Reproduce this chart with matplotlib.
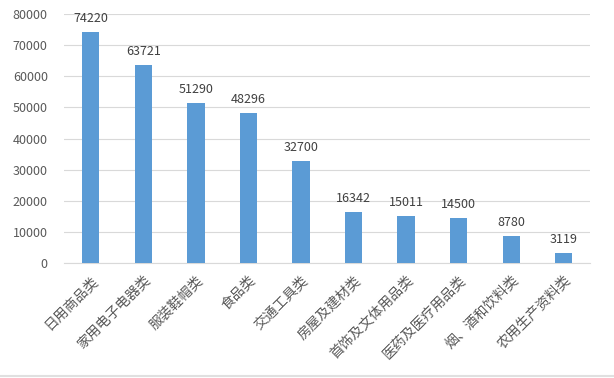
import matplotlib
matplotlib.use("Agg")
import matplotlib.pyplot as plt
from matplotlib.lines import Line2D

plt.rcParams["font.family"] = ["Noto Sans CJK SC", "DejaVu Sans"]

categories = ["日用商品类", "家用电子电器类", "服装鞋帽类", "食品类", "交通工具类",
              "房屋及建材类", "首饰及文体用品类", "医药及医疗用品类", "烟、酒和饮料类", "农用生产资料类"]
values = [74220, 63721, 51290, 48296, 32700, 16342, 15011, 14500, 8780, 3119]
yticks = [0, 10000, 20000, 30000, 40000, 50000, 60000, 70000, 80000]

fig = plt.figure(figsize=(6.14, 3.78), dpi=100)
ax = fig.add_axes([0.105, 0.304, 0.856, 0.659])

x = range(len(categories))
ax.bar(x, values, width=0.33, color="#5B9BD5", zorder=3)
for xi, v in zip(x, values):
    ax.text(xi, v + 2300, str(v), ha="center", va="bottom", fontsize=9, color="#404040")

ax.set_ylim(0, 80000)
ax.set_xlim(-0.5, len(categories) - 0.5)
ax.set_yticks(yticks)
ax.set_yticklabels([str(t) for t in yticks], fontsize=9, color="#595959")
ax.set_xticks(list(x))
ax.set_xticklabels(categories, rotation=45, ha="right", rotation_mode="anchor",
                   fontsize=10, color="#595959")
ax.grid(axis="y", color="#D9D9D9", linewidth=0.8, zorder=0)
for s in ["top", "right", "left"]:
    ax.spines[s].set_visible(False)
ax.spines["bottom"].set_color("#D9D9D9")
ax.tick_params(axis="y", length=0, pad=12)
ax.tick_params(axis="x", length=0, pad=7)

fig.add_artist(Line2D([0, 1], [0.004, 0.004], color="#E0E0E0", linewidth=1.5))

fig.savefig("out.png", dpi=100)
